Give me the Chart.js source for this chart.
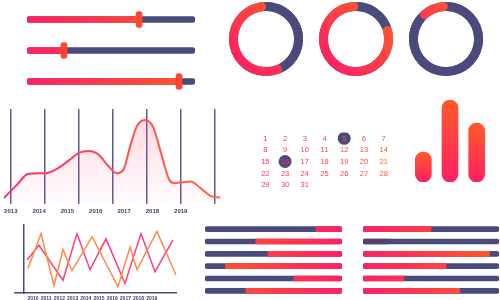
<!DOCTYPE html>
<html>
<head>
<meta charset="utf-8">
<script src="https://cdn.jsdelivr.net/npm/chart.js@4"></script>
<style>
  html, body { margin: 0; padding: 0; background: #fff; }
  #board { position: relative; width: 500px; height: 300px; overflow: hidden; }
  #board canvas { position: absolute; }
</style>
</head>
<body>
<div id="board">
  <canvas id="sliders" width="168" height="93" style="left:27px;top:4px"></canvas>
  <canvas id="ring1" width="74" height="74" style="left:229px;top:2px"></canvas>
  <canvas id="ring2" width="74" height="74" style="left:319px;top:2px"></canvas>
  <canvas id="ring3" width="74" height="74" style="left:409px;top:2px"></canvas>
  <canvas id="area" width="222" height="110" style="left:0px;top:109px"></canvas>
  <canvas id="calendar" width="151" height="71" style="left:249px;top:126px"></canvas>
  <canvas id="bars" width="80" height="85" style="left:410px;top:97px"></canvas>
  <canvas id="lines" width="163" height="81" style="left:14px;top:224px"></canvas>
  <canvas id="progLeft" width="137" height="74" style="left:205px;top:223px"></canvas>
  <canvas id="progRight" width="136" height="74" style="left:363px;top:223px"></canvas>
</div>
<script>
const PINK = '#ff2064';
const ORANGE = '#ff5a28';
const NAVY = '#4a4a7c';

// sliders (handle position, 0..1)
const sliderValues = [0.667, 0.22, 0.905];

// rings: navy share and start angle
const ringNavy = [42, 17.5, 85.5];
const ringStart = [0, 4, 3];

// area chart
const areaYears = ['2013', '2014', '2015', '2016', '2017', '2018', '2019'];
const areaX = [-0.2, 0.18, 0.52, 1.05, 1.39, 1.73, 2.01, 2.3, 2.59, 2.88, 3.12, 3.31, 3.51, 3.7, 3.94, 4.18, 4.42, 4.66, 4.81, 5.29, 5.58, 5.87, 6.16];
const areaY = [6, 20, 31.6, 32.3, 37.6, 46.3, 54, 55.8, 51.6, 39.3, 32.3, 35.8, 60.3, 81.4, 88.4, 81.4, 53.4, 25.3, 21.8, 23.5, 16.5, 8.4, 6.6];

// calendar
const calendarDays = [1, 2, 3, 4, 5, 6, 7, 8, 9, 10, 11, 12, 13, 14, 15, 16, 17, 18, 19, 20, 21, 22, 23, 24, 25, 26, 27, 28, 29, 30, 31];
const markedDays = [5, 16];

// vertical bars
const barLabels = ['A', 'B', 'C'];
const barValues = [30, 82, 59];

// small line chart
const lineYears = [2010, 2011, 2012, 2013, 2014, 2015, 2016, 2017, 2018, 2019];
const orangeX = [2009.62, 2010.61, 2011.59, 2012.27, 2012.95, 2014.47, 2016.44, 2017.35, 2017.88, 2019.39, 2020.83];
const orangeY = [23, 56, 7, 41, 21, 53, 6, 43, 22, 58, 17];
const pinkX = [2009.55, 2010.45, 2012.27, 2013.33, 2014.32, 2015.53, 2016.97, 2018.18, 2019.24, 2020.61];
const pinkY = [31, 45, 12, 56, 22, 51, 9, 56, 20, 50];

// progress bars
const leftNavy = [0.81, 0.37, 0.46, 0.15, 0.65, 0.30];
const rightFill = [0.50, 0.18, 0.93, 0.61, 0.30, 0.71];

Chart.defaults.animation = false;
Chart.defaults.responsive = false;
Chart.defaults.devicePixelRatio = 1;
Chart.defaults.plugins.legend.display = false;
Chart.defaults.plugins.tooltip.enabled = false;
Chart.defaults.font.family = '"Liberation Sans", Arial, sans-serif';

function hGrad(c1, c2) {
    return (ctx) => {
        const a = ctx.chart.chartArea;
        if (!a) return c1;
        const g = ctx.chart.ctx.createLinearGradient(a.left, 0, a.right, 0);
        g.addColorStop(0, c1);
        g.addColorStop(1, c2);
        return g;
    };
}

function vGrad(c1, c2) {
    return (ctx) => {
        const a = ctx.chart.chartArea;
        if (!a) return c1;
        const g = ctx.chart.ctx.createLinearGradient(0, a.top, 0, a.bottom);
        g.addColorStop(0, c1);
        g.addColorStop(1, c2);
        return g;
    };
}

const hidden = { display: false };

// ---- sliders ----
new Chart(document.getElementById('sliders'), {
    type: 'bar',
    data: {
        labels: ['s1', 's2', 's3'],
        datasets: [
            { data: sliderValues.map(v => [v - 0.018, v + 0.018]), backgroundColor: '#ff4630', barThickness: 16, borderRadius: 3, borderSkipped: false, grouped: false, order: 1 },
            { data: sliderValues.map(v => [0, v]), backgroundColor: hGrad(PINK, ORANGE), barThickness: 6, borderRadius: 3, borderSkipped: 'end', grouped: false, order: 2 },
            { data: sliderValues.map(() => [0, 1]), backgroundColor: NAVY, barThickness: 6, borderRadius: 3, borderSkipped: false, grouped: false, order: 3 }
        ]
    },
    options: { indexAxis: 'y', scales: { x: { display: false, min: 0, max: 1 }, y: hidden } }
});

// ---- rings ----
const ringTrack = {
    id: 'ringTrack',
    beforeDatasetsDraw(chart) {
        const arc = chart.getDatasetMeta(0).data[0];
        if (!arc) return;
        const c = chart.ctx;
        c.save();
        c.beginPath();
        c.arc(arc.x, arc.y, (arc.outerRadius + arc.innerRadius) / 2, 0, Math.PI * 2);
        c.lineWidth = arc.outerRadius - arc.innerRadius;
        c.strokeStyle = NAVY;
        c.stroke();
        c.restore();
    }
};

function ringColor(ctx) {
    if (ctx.dataIndex === 0) return NAVY;
    const a = ctx.chart.chartArea;
    if (!a) return PINK;
    const g = ctx.chart.ctx.createLinearGradient(a.left, a.bottom, a.right, a.top);
    g.addColorStop(0.15, PINK);
    g.addColorStop(0.85, ORANGE);
    return g;
}

ringNavy.forEach((navy, i) => {
    new Chart(document.getElementById('ring' + (i + 1)), {
        type: 'doughnut',
        data: {
            labels: ['rest', 'value'],
            datasets: [{
                data: [navy, 100 - navy],
                backgroundColor: ringColor,
                borderWidth: 0,
                borderRadius: (ctx) => ctx.dataIndex === 1 ? 5 : 0
            }]
        },
        options: { rotation: ringStart[i], cutout: '76%' },
        plugins: [ringTrack]
    });
});

// ---- area chart ----
new Chart(document.getElementById('area'), {
    type: 'line',
    data: {
        datasets: [{
            data: areaX.map((x, i) => ({ x, y: areaY[i] })),
            borderColor: hGrad('#ff2d6a', '#ff6a40'),
            borderWidth: 2,
            pointRadius: 0,
            cubicInterpolationMode: 'monotone',
            fill: 'origin',
            backgroundColor: vGrad('rgba(255,70,110,0.22)', 'rgba(255,70,110,0.02)')
        }]
    },
    options: {
        scales: {
            x: {
                type: 'linear', min: -0.2, max: 6.21,
                grid: { color: '#5c5c8e', lineWidth: 1.5, drawTicks: false },
                border: { display: false },
                ticks: { display: false, stepSize: 1, includeBounds: false }
            },
            x2: {
                type: 'linear', position: 'bottom', min: 2012.757, max: 2020.457,
                grid: { display: false, drawTicks: false },
                border: { display: false },
                ticks: {
                    stepSize: 1, includeBounds: false, autoSkip: false, maxRotation: 0, padding: 4,
                    color: '#3b3b66', font: { size: 6, weight: 'bold' },
                    callback: v => areaYears.includes(String(v)) ? String(v) : ''
                }
            },
            y: { display: false, min: 0, max: 100 }
        }
    }
});

// ---- calendar ----
const dayPos = d => ({ x: (d - 1) % 7 + 1, y: Math.floor((d - 1) / 7) + 1 });
const dayLabels = {
    id: 'dayLabels',
    afterDatasetsDraw(chart) {
        const c = chart.ctx;
        const pts = chart.getDatasetMeta(1).data;
        c.save();
        c.font = '7.5px "Liberation Sans", Arial, sans-serif';
        c.textAlign = 'center';
        c.textBaseline = 'middle';
        pts.forEach((p, i) => {
            const col = (calendarDays[i] - 1) % 7;
            const t = col / 6;
            const g = Math.round(0x2a + (0x55 - 0x2a) * t);
            const b = Math.round(0x6a + (0x30 - 0x6a) * t);
            c.fillStyle = `rgb(255,${g},${b})`;
            c.fillText(String(calendarDays[i]), p.x, p.y + 0.5);
        });
        c.restore();
    }
};

new Chart(document.getElementById('calendar'), {
    type: 'scatter',
    data: {
        datasets: [
            { data: markedDays.map(dayPos), pointRadius: 6.5, backgroundColor: NAVY, borderWidth: 0 },
            { data: calendarDays.map(dayPos), pointRadius: 0 }
        ]
    },
    options: {
        scales: {
            x: { display: false, min: 0.5, max: 7.5 },
            y: { display: false, min: 0.5, max: 5.5, reverse: true }
        }
    },
    plugins: [dayLabels]
});

// ---- vertical bars ----
new Chart(document.getElementById('bars'), {
    type: 'bar',
    data: {
        labels: barLabels,
        datasets: [{
            data: barValues,
            backgroundColor: (ctx) => {
                const { chart } = ctx;
                const a = chart.chartArea;
                if (!a) return PINK;
                const top = chart.scales.y.getPixelForValue(ctx.raw);
                const g = chart.ctx.createLinearGradient(0, top, 0, a.bottom);
                g.addColorStop(0, ORANGE);
                g.addColorStop(1, PINK);
                return g;
            },
            barThickness: 16,
            borderRadius: 8,
            borderSkipped: false
        }]
    },
    options: { scales: { x: hidden, y: { display: false, min: 0, max: 85 } } }
});

// ---- small line chart ----
new Chart(document.getElementById('lines'), {
    type: 'line',
    data: {
        datasets: [
            { data: orangeX.map((x, i) => ({ x, y: orangeY[i] })), borderColor: '#ff8a45', borderWidth: 1.5, pointRadius: 0 },
            { data: pinkX.map((x, i) => ({ x, y: pinkY[i] })), borderColor: '#ff3d78', borderWidth: 1.5, pointRadius: 0 }
        ]
    },
    options: {
        scales: {
            x: {
                type: 'linear', min: 2008.56, max: 2020.91,
                grid: { display: false, drawTicks: false },
                border: { display: true, color: NAVY, width: 1.5 },
                ticks: {
                    stepSize: 1, includeBounds: false, autoSkip: false, maxRotation: 0, padding: 3,
                    color: '#3b3b66', font: { size: 5, weight: 'bold' },
                    callback: v => lineYears.includes(v) ? String(v) : ''
                }
            },
            y: {
                position: { x: 2009.32 }, min: 0, max: 65,
                grid: { display: false, drawTicks: false },
                border: { display: true, color: NAVY, width: 1.5 },
                ticks: { display: false }
            }
        }
    }
});

// ---- progress bars ----
new Chart(document.getElementById('progLeft'), {
    type: 'bar',
    data: {
        labels: leftNavy.map((_, i) => 'row ' + (i + 1)),
        datasets: [
            { data: leftNavy.map(v => [v, 1]), backgroundColor: hGrad(ORANGE, PINK), barThickness: 5, borderRadius: 2.5, borderSkipped: 'start', grouped: false, order: 1 },
            { data: leftNavy.map(() => [0, 1]), backgroundColor: NAVY, barThickness: 5, borderRadius: 2.5, borderSkipped: false, grouped: false, order: 2 }
        ]
    },
    options: { indexAxis: 'y', scales: { x: { display: false, min: 0, max: 1 }, y: hidden } }
});

const rightGrad = hGrad(PINK, ORANGE);
new Chart(document.getElementById('progRight'), {
    type: 'bar',
    data: {
        labels: rightFill.map((_, i) => 'row ' + (i + 1)),
        datasets: [
            {
                data: rightFill.map(v => [0, v]),
                backgroundColor: (ctx) => ctx.dataIndex === 1 ? '#55406f' : rightGrad(ctx),
                barThickness: 5, borderRadius: 2.5, borderSkipped: 'end', grouped: false, order: 1
            },
            { data: rightFill.map(() => [0, 1]), backgroundColor: NAVY, barThickness: 5, borderRadius: 2.5, borderSkipped: false, grouped: false, order: 2 }
        ]
    },
    options: { indexAxis: 'y', scales: { x: { display: false, min: 0, max: 1 }, y: hidden } }
});
</script>
</body>
</html>
